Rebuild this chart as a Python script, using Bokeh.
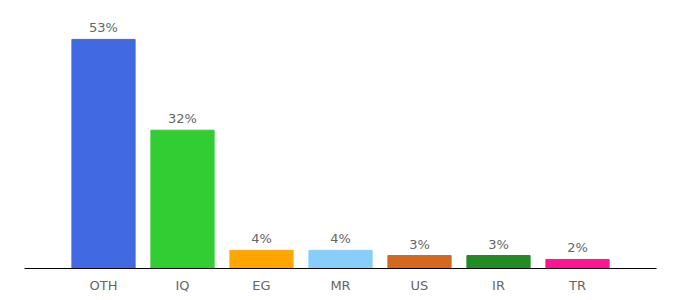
from bokeh.plotting import figure
from bokeh.models import ColumnDataSource, FactorRange, Range1d
from bokeh.core.properties import value
from bokeh.embed import file_html
from bokeh.resources import INLINE

categories = ["OTH", "IQ", "EG", "MR", "US", "IR", "TR"]
shares = [53, 32, 4.2, 4.2, 3, 3, 2.1]
share_labels = ["53%", "32%", "4%", "4%", "3%", "3%", "2%"]
colors = ["#4169E1", "#32CD32", "#FFA500", "#87CEFA", "#D2691E", "#228B22", "#FF1493"]

src = ColumnDataSource(dict(cat=categories, val=shares, lab=share_labels, col=colors))

p = figure(
    width=680, height=300,
    x_range=FactorRange(*categories, range_padding=0.5, range_padding_units="absolute"),
    y_range=Range1d(0, 62.0),
    output_backend="svg", toolbar_location=None,
    y_axis_location=None,
    min_border_left=24, min_border_right=24, min_border_top=0, min_border_bottom=32,
)
p.vbar(x="cat", top="val", width=0.8, color="col", source=src)
p.text(x="cat", y="val", text="lab", source=src,
       text_align="center", text_baseline="bottom", y_offset=-4,
       text_font=value("DejaVu Sans"), text_font_size="13px", text_color="#666666")

p.xgrid.grid_line_color = None
p.ygrid.grid_line_color = None
p.outline_line_color = None
ax = p.xaxis[0]
ax.axis_line_color = "#000000"
ax.axis_line_width = 1
ax.major_tick_line_color = None
ax.minor_tick_line_color = None
ax.major_label_standoff = 3
ax.major_label_text_font = "DejaVu Sans"
ax.major_label_text_font_size = "13px"
ax.major_label_text_color = "#666666"

open("out.html", "w").write(file_html(p, INLINE))
